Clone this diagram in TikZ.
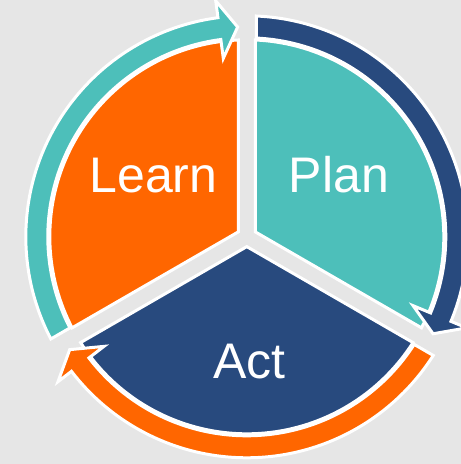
\documentclass[tikz,border=0pt]{standalone}
\usepackage{fontspec}
\setmainfont{Liberation Sans}
\definecolor{bgc}{RGB}{230,230,230}
\definecolor{orng}{RGB}{255,102,0}
\definecolor{teal}{RGB}{77,191,186}
\definecolor{navy}{RGB}{40,74,126}
\begin{document}
\begin{tikzpicture}[
  sector/.style={draw=white, line width=3pt},
  band/.style={draw=white, line width=3pt},
  lbl/.style={text=white, font=\fontsize{50}{60}\selectfont, anchor=base, inner sep=0pt}
]
\fill[bgc] (-246.8pt,-227.2pt) rectangle (214.2pt,236.8pt);
\useasboundingbox (-246.8pt,-227.2pt) rectangle (214.2pt,236.8pt);
% sectors
\pgfmathsetmacro{\dl}{asin(8.5/197)}
\foreach \a/\b/\c in {90/210/orng, -30/90/teal, -150/-30/navy}{
  \pgfmathsetmacro{\mid}{(\a+\b)/2}
  \pgfmathsetmacro{\sa}{\a+\dl}
  \pgfmathsetmacro{\ea}{\b-\dl}
  \path[sector, fill=\c] (\mid:9.815pt) -- (\sa:197pt) arc[start angle=\sa, end angle=\ea, radius=197pt] -- cycle;
}
% bands (arrows)
\foreach \T/\c in {210/teal, 90/navy, -30/orng}{
  \pgfmathsetmacro{\H}{\T-120}
  \pgfmathsetmacro{\to}{\T-asin(9.5/221)}
  \pgfmathsetmacro{\ti}{\T-asin(9.5/199)}
  \pgfmathsetmacro{\ba}{\H+7.5}
  \pgfmathsetmacro{\tp}{\H+2.5}
  \path[band, fill=\c] (\to:221pt) arc[start angle=\to, end angle=\ba, radius=221pt]
     -- (\ba:238pt) -- (\tp:210pt) -- (\ba:180pt) -- (\ba:199pt)
     arc[start angle=\ba, end angle=\ti, radius=199pt] -- cycle;
}
\node[lbl] (learn) at (-93.3pt,44.8pt) {Learn};
\node[lbl] (plan) at (92.2pt,44.8pt) {Plan};
\node[lbl] (act) at (2.7pt,-141.2pt) {Act};
\end{tikzpicture}
\end{document}
